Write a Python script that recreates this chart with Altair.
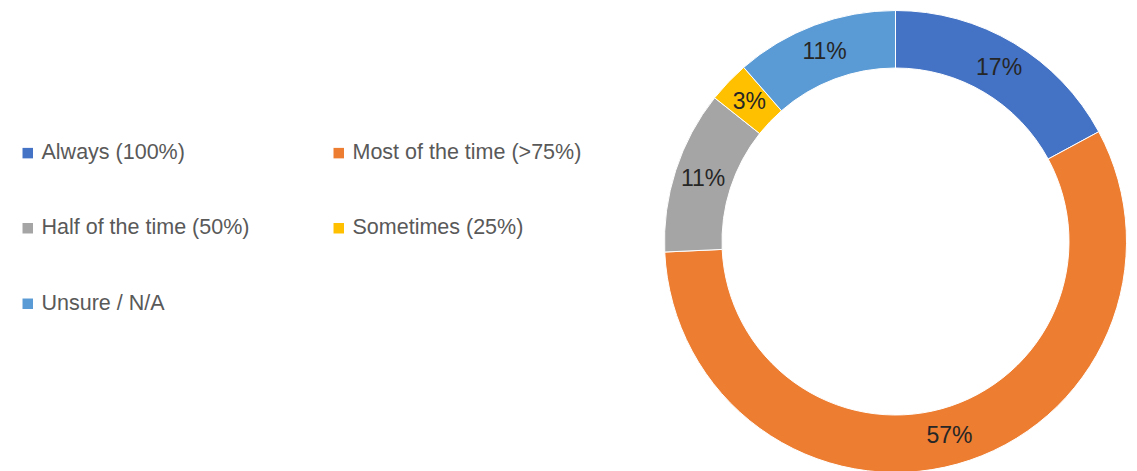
import altair as alt
import pandas as pd

categories = ["Always (100%)", "Most of the time (>75%)", "Half of the time (50%)",
              "Sometimes (25%)", "Unsure / N/A"]
values = [17.1, 57.1, 11.4, 2.9, 11.4]
pct_labels = ["17%", "57%", "11%", "3%", "11%"]
colors = ["#4472C4", "#ED7D31", "#A5A5A5", "#FFC000", "#5B9BD5"]

df = pd.DataFrame({
    "category": categories,
    "value": values,
    "label": pct_labels,
    "idx": list(range(len(categories))),
})

CX, CY = 887.5, 230.5
R_OUT, R_IN = 231, 173.5
R_LAB = (R_OUT + R_IN) / 2

base = alt.Chart(df).encode(
    theta=alt.Theta("value:Q", stack=True),
    order=alt.Order("idx:Q", sort="ascending"),
    x=alt.value(CX),
    y=alt.value(CY),
)

arcs = base.mark_arc(outerRadius=R_OUT, innerRadius=R_IN, stroke="white", strokeWidth=1).encode(
    color=alt.Color(
        "category:N",
        scale=alt.Scale(domain=categories, range=colors),
        sort=categories,
        legend=alt.Legend(
            title=None,
            orient="none",
            direction="horizontal",
            legendX=9,
            legendY=131,
            columns=2,
            symbolType="square",
            symbolSize=110,
            symbolStrokeWidth=0,
            labelFontSize=21.5,
            labelFont="Liberation Sans",
            labelColor="#595959",
            labelOffset=3,
            rowPadding=52.5,
            columnPadding=78,
            labelLimit=400,
            padding=0,
        ),
    )
)

labels = base.mark_text(radius=R_LAB, fontSize=23, font="Liberation Sans", color="#262626").encode(
    text="label:N"
)

chart = alt.layer(arcs, labels).properties(
    width=1121, height=455, padding=0
).configure_view(stroke=None)

chart.save("out.html", embed_options={"renderer": "svg", "actions": False})
